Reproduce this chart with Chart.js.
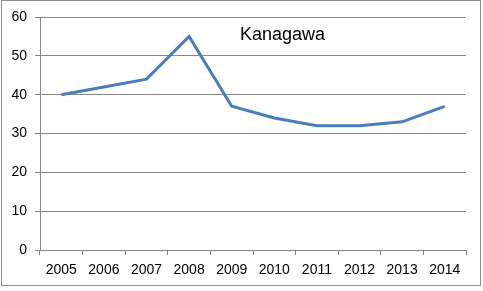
<!DOCTYPE html>
<html lang="en">
<head>
  <meta charset="UTF-8">
  <title>Kanagawa</title>
  <script src="https://cdn.jsdelivr.net/npm/chart.js"></script>
  <style>
    html, body { margin: 0; padding: 0; background: #fff; }
    #wrap { width: 483px; height: 291px; position: relative; }
  </style>
</head>
<body>
  <div id="wrap"><canvas id="kanagawaChart" width="483" height="291"></canvas></div>

  <script>
    const years = ['2005', '2006', '2007', '2008', '2009', '2010', '2011', '2012', '2013', '2014'];
    const values = [40, 42, 44, 55, 37, 34, 32, 32, 33, 37];
    const yTicks = [0, 10, 20, 30, 40, 50, 60];
    const chartTitle = 'Kanagawa';

    const gridColor = '#868686';
    const fontFamily = "'Liberation Sans', Arial, sans-serif";

    // outer frame + in-plot title
    const decorations = {
      id: 'decorations',
      afterDraw(chart) {
        const { ctx, chartArea } = chart;
        ctx.save();
        ctx.strokeStyle = '#8c8c8c';
        ctx.lineWidth = 1;
        ctx.strokeRect(1.5, 0.5, 479, 285);
        ctx.fillStyle = '#000';
        ctx.font = '18px ' + fontFamily;
        ctx.textBaseline = 'middle';
        ctx.fillText(chartTitle, chartArea.left + 200, 35);
        ctx.restore();
      }
    };

    new Chart(document.getElementById('kanagawaChart').getContext('2d'), {
      type: 'line',
      data: {
        labels: years,
        datasets: [{
          label: chartTitle,
          data: values,
          borderColor: '#4a7ebb',
          borderWidth: 3,
          pointRadius: 0,
          tension: 0,
          fill: false
        }]
      },
      options: {
        responsive: false,
        animation: false,
        layout: { padding: { top: 17, right: 17, bottom: 0, left: 0 } },
        plugins: { legend: { display: false }, tooltip: { enabled: false } },
        scales: {
          x: {
            offset: true,
            grid: { offset: true, drawOnChartArea: false, drawTicks: true, tickLength: 5, color: gridColor },
            border: { color: gridColor },
            ticks: { color: '#000', font: { family: fontFamily, size: 14 }, padding: 7, maxRotation: 0 },
            afterFit(scale) { scale.height = 41; }
          },
          y: {
            min: 0,
            max: 60,
            afterBuildTicks(scale) { scale.ticks = yTicks.map(v => ({ value: v })); },
            grid: { color: gridColor, tickLength: 5 },
            border: { color: gridColor },
            ticks: { color: '#000', font: { family: fontFamily, size: 14 }, padding: 8 },
            afterFit(scale) { scale.width = 40; }
          }
        }
      },
      plugins: [decorations]
    });
  </script>
</body>
</html>
